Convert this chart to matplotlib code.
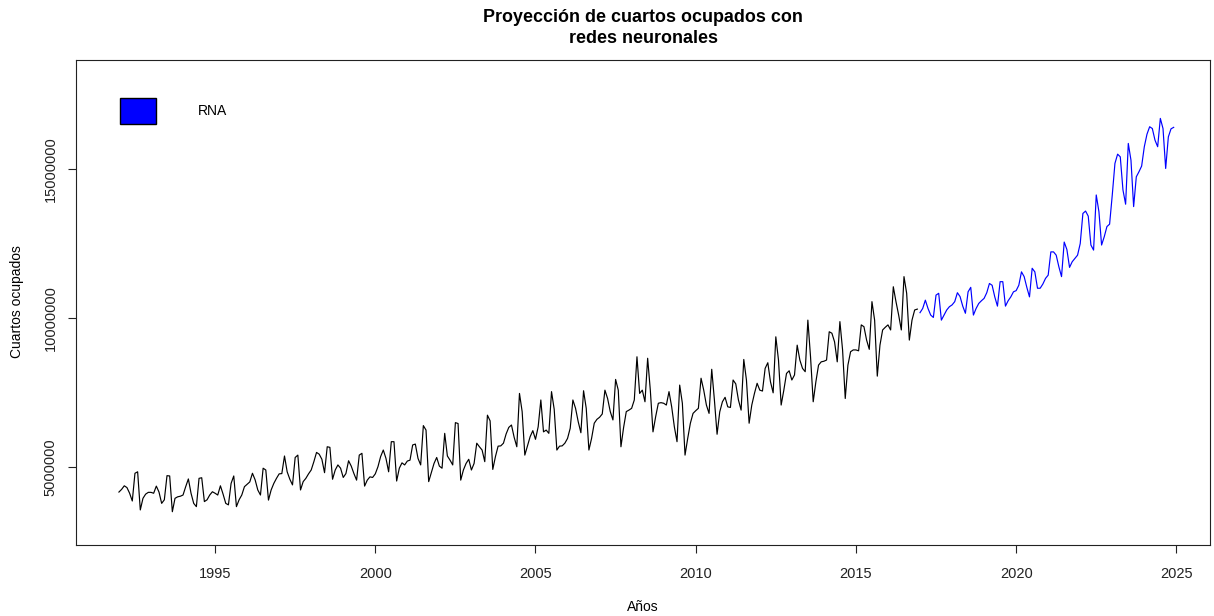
import numpy as np
import matplotlib
matplotlib.use('Agg')
import matplotlib.pyplot as plt
from matplotlib.patches import Patch
from matplotlib.ticker import FuncFormatter

plt.rcParams['font.family'] = ['Liberation Sans', 'DejaVu Sans']

# monthly rooms occupied (millions), Jan 1992 - Dec 2016
observed = [
    4.16, 4.25, 4.37, 4.31, 4.12, 3.86, 4.79, 4.84, 3.56, 3.95, 4.09, 4.15,  # 1992
    4.15, 4.12, 4.36, 4.16, 3.78, 3.90, 4.71, 4.70, 3.50, 3.95, 4.00, 4.02,  # 1993
    4.06, 4.34, 4.60, 4.12, 3.78, 3.67, 4.62, 4.64, 3.84, 3.90, 4.06, 4.17,  # 1994
    4.12, 4.06, 4.37, 4.09, 3.78, 3.73, 4.45, 4.70, 3.67, 3.90, 4.06, 4.34,  # 1995
    4.42, 4.50, 4.79, 4.57, 4.23, 4.06, 4.96, 4.90, 3.89, 4.23, 4.45, 4.62,  # 1996
    4.77, 4.78, 5.37, 4.84, 4.59, 4.40, 5.32, 5.40, 4.23, 4.51, 4.62, 4.77,  # 1997
    4.90, 5.18, 5.49, 5.43, 5.26, 4.81, 5.68, 5.66, 4.59, 4.90, 5.07, 4.96,  # 1998
    4.65, 4.78, 5.21, 5.03, 4.78, 4.56, 5.40, 5.46, 4.36, 4.56, 4.67, 4.65,  # 1999
    4.77, 5.01, 5.35, 5.57, 5.29, 4.84, 5.85, 5.85, 4.53, 4.96, 5.14, 5.07,  # 2000
    5.20, 5.23, 5.74, 5.77, 5.29, 5.07, 6.39, 6.24, 4.51, 4.81, 5.12, 5.32,  # 2001
    5.03, 4.96, 6.13, 5.37, 5.23, 5.07, 6.49, 6.46, 4.56, 4.90, 5.12, 5.26,  # 2002
    4.90, 5.12, 5.80, 5.68, 5.57, 5.18, 6.74, 6.55, 4.92, 5.35, 5.70, 5.71,  # 2003
    5.80, 6.11, 6.33, 6.41, 6.00, 5.68, 7.47, 6.86, 5.40, 5.71, 6.02, 6.22,  # 2004
    5.93, 6.35, 7.25, 6.18, 6.24, 6.13, 7.53, 6.94, 5.57, 5.70, 5.71, 5.80,  # 2005
    5.96, 6.30, 7.25, 6.97, 6.52, 6.15, 7.56, 6.97, 5.57, 5.96, 6.47, 6.60,  # 2006
    6.67, 6.78, 7.58, 7.30, 6.86, 6.58, 7.94, 7.58, 5.68, 6.33, 6.86, 6.91,  # 2007
    6.97, 7.25, 8.70, 7.47, 7.58, 7.19, 8.65, 7.58, 6.18, 6.69, 7.14, 7.16,  # 2008
    7.14, 7.08, 7.53, 7.02, 6.35, 5.85, 7.75, 7.14, 5.40, 5.96, 6.47, 6.80,  # 2009
    6.89, 6.97, 7.98, 7.58, 7.08, 6.80, 8.28, 7.25, 6.10, 6.85, 7.19, 7.34,  # 2010
    7.02, 7.00, 7.92, 7.79, 7.25, 6.91, 8.61, 7.92, 6.47, 7.08, 7.47, 7.81,  # 2011
    7.58, 7.55, 8.31, 8.50, 7.86, 7.49, 9.37, 8.59, 7.08, 7.58, 8.14, 8.23,  # 2012
    7.92, 8.09, 9.09, 8.59, 8.31, 8.20, 9.93, 8.70, 7.19, 7.86, 8.42, 8.53,  # 2013
    8.55, 8.59, 9.54, 9.49, 9.20, 8.53, 9.88, 8.93, 7.30, 8.42, 8.87, 8.93,  # 2014
    8.93, 8.90, 9.77, 9.71, 9.26, 8.95, 10.55, 9.93, 8.05, 9.09, 9.60, 9.69,  # 2015
    9.77, 9.60, 11.05, 10.55, 10.10, 9.60, 11.39, 10.83, 9.26, 9.93, 10.27, 10.30,  # 2016
]

# neural net forecast (millions), Jan 2017 - Dec 2024
forecast = [
    10.18, 10.32, 10.60, 10.32, 10.10, 10.02, 10.77, 10.83, 9.93, 10.10, 10.27, 10.38,  # 2017
    10.44, 10.55, 10.85, 10.72, 10.40, 10.16, 10.88, 11.03, 10.10, 10.32, 10.49, 10.58,  # 2018
    10.66, 10.85, 11.16, 11.10, 10.71, 10.40, 11.22, 11.22, 10.40, 10.58, 10.71, 10.88,  # 2019
    10.92, 11.10, 11.55, 11.39, 11.03, 10.71, 11.67, 11.55, 11.00, 11.00, 11.14, 11.33,  # 2020
    11.44, 12.22, 12.22, 12.11, 11.72, 11.39, 12.55, 12.30, 11.70, 11.89, 12.00, 12.11,  # 2021
    12.50, 13.51, 13.59, 13.42, 12.45, 12.28, 14.13, 13.57, 12.45, 12.73, 13.07, 13.15,  # 2022
    14.13, 15.19, 15.50, 15.41, 14.30, 13.82, 15.86, 15.30, 13.74, 14.74, 14.91, 15.10,  # 2023
    15.75, 16.17, 16.42, 16.36, 15.97, 15.75, 16.70, 16.36, 15.02, 16.08, 16.35, 16.40,  # 2024
]

start_obs = 1992
start_fc = 2017
xticks = [1995, 2000, 2005, 2010, 2015, 2020, 2025]
yticks = [5000000, 10000000, 15000000]

t_obs = start_obs + np.arange(len(observed)) / 12
t_fc = start_fc + np.arange(len(forecast)) / 12
y_obs = np.array(observed) * 1e6
y_fc = np.array(forecast) * 1e6

fig = plt.figure(figsize=(12.14, 6.16), dpi=100)
ax = fig.add_axes([76/1214, 1-545/616, (1210-76)/1214, (545-60)/616])

ax.plot(t_obs, y_obs, color='black', lw=0.85)
ax.plot(t_fc, y_fc, color='#0000FF', lw=0.85)

ax.set_xlim(1990.66, 2026.05)
ax.set_ylim(2.383e6, 18.66e6)
ax.set_xticks(xticks)
ax.set_yticks(yticks)
ax.yaxis.set_major_formatter(FuncFormatter(lambda v, p: '%d' % v))
ax.tick_params(axis='both', direction='out', length=5.8, width=0.8, labelsize=10.5,
               colors='#222222')
ax.tick_params(axis='x', pad=10)
ax.tick_params(axis='y', pad=7.5)
for lab in ax.get_yticklabels():
    lab.set_rotation(90)
    lab.set_va('center')
for s in ax.spines.values():
    s.set_linewidth(0.8)
    s.set_color('#222222')

leg = ax.legend(handles=[Patch(facecolor='#0000FF', edgecolor='black', label='RNA')],
                loc='upper left', bbox_to_anchor=(0.0388, 0.921), frameon=False,
                fontsize=10, handlelength=2.58, handleheight=2.47, handletextpad=3.0,
                borderpad=0, borderaxespad=0)

fig.text(643/1214, 1-28/616, 'Proyección de cuartos ocupados con\nredes neuronales',
         ha='center', va='center', fontsize=12.9, fontweight='bold',
         multialignment='center', linespacing=1.3)
fig.text(643/1214, 1-607/616, 'Años', ha='center', va='center', fontsize=10)
fig.text(17/1214, 1-302/616, 'Cuartos ocupados', ha='center', va='center', rotation=90, fontsize=10)

plt.savefig('out.png', dpi=100)
